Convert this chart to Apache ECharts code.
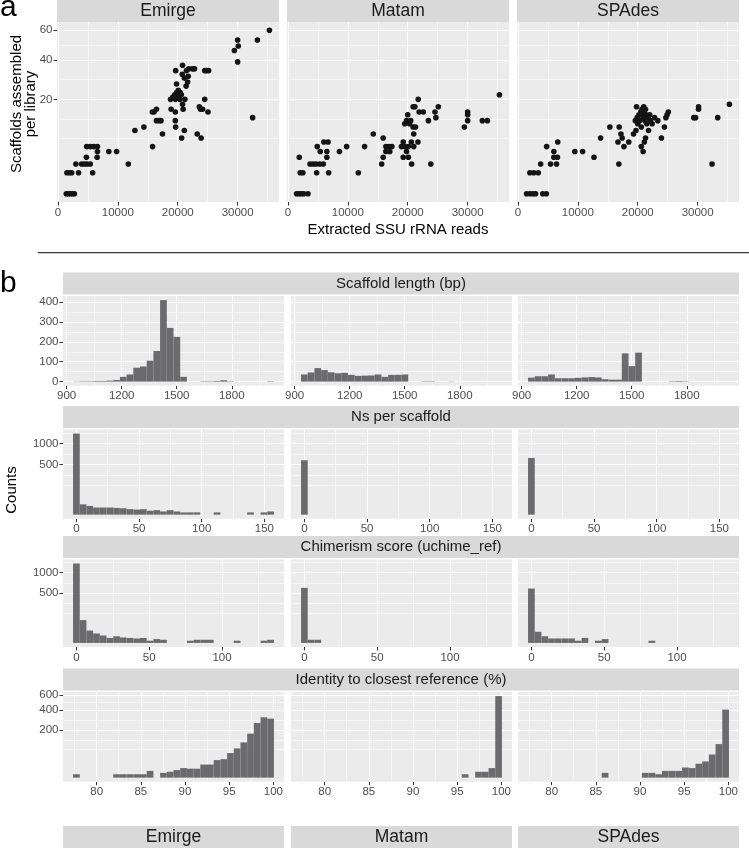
<!DOCTYPE html>
<html><head><meta charset="utf-8">
<script src="https://cdn.jsdelivr.net/npm/echarts@6/dist/echarts.min.js"></script>
<style>html,body{margin:0;padding:0;background:#fff}#c{width:749px;height:848px}</style>
</head><body><div id="c"></div>
<script>
// ---------------- DATA ----------------
const methods = ['Emirge', 'Matam', 'SPAdes'];

// Panel a: [extracted SSU rRNA reads, scaffolds assembled]
const scatterEmirge = [
[1400,0],[1750,0],[2100,0],[2450,0],[2750,0],
[1500,1],[1900,1],[2300,1],[3450,1],[5800,1],
[3000,2],[3950,2],[4400,2],[4850,2],[5400,2],[11750,2],
[4750,3],[6550,3],
[6600,4],[8500,4],[9800,4],
[4800,5],[5400,5],[6000,5],[6600,5],[15800,5],
[20650,7],[23900,7],[17450,8],[23250,8],[12850,9],[21100,9],[14350,10],[19650,10],
[16450,12],[16900,12],[17200,12],[19600,12],[32500,13],
[15750,15],[16050,15],[19600,15],[25050,15],
[16450,16],[18900,16],[20900,16],[23800,16],[24150,16],
[23600,17],[20800,18],
[18800,20],[19600,20],[20350,20],[21200,20],[24500,20],
[19200,21],[20200,21],[19500,22],[19900,22],[20600,22],[20400,23],[19800,23],[20100,24],
[21400,26],[19800,27],[21650,28],[21100,30],[21750,31],[20750,32],
[19650,34],[21450,34],[24500,34],[24800,34],[25150,34],[21850,35],[22450,35],[22800,35],[20800,37],
[30000,39],[29450,46],[30100,49],[30000,53],[33300,53],[35300,60]
];
const scatterMatam = [
[1450,0],[1850,0],[2250,0],[2650,0],[3350,0],
[2050,1],[2500,1],[4800,1],[6800,1],[11750,1],
[3700,2],[4200,2],[4700,2],[5300,2],[5900,2],
[1900,3],[6500,3],
[5400,4],[6500,4],[8600,4],
[4900,5],[9800,5],[12800,5],
[6000,6],[6700,6],
[14250,8],
[15650,2],[15900,3],[16350,4],[16800,5],[17350,5],[15900,7],[16350,5],[17000,4],
[18950,5],[19250,6],[19500,5],[19800,4],[20100,5],[19250,3],[20100,3],[20650,2],[23850,2],
[19500,11],[19800,12],[20000,14],[20300,11],[20500,12],[20900,10],[21300,10],[21000,8],[21700,6],[20600,6],[21000,5],
[20900,17],[21200,17],[21750,20],[21900,15],[22600,15],[23450,12],[24550,15],[25100,17],[24700,13],
[29450,10],[30000,15],[30000,14],[30000,12],[32450,12],[33300,12],[35300,22]
];
const scatterSpades = [
[1450,0],[2000,0],[2500,0],[2950,0],[4150,0],[4750,0],
[2000,1],[2650,1],[3400,1],
[3800,2],[5450,2],[6450,2],[16850,2],[32400,2],
[6000,3],[6600,3],[12700,3],
[6000,4],[9500,4],[10800,4],
[4800,5],[17700,5],
[6650,6],[16700,6],[18500,6],
[13800,7],[17400,7],[23950,7],
[15350,10],[16900,10],[17200,8],[24450,10],
[19300,8],[19700,9],[20000,11],[20300,12],[20600,10],[20900,13],[21200,12],[21500,11],[21800,9],[22100,12],[22400,11],
[19600,12],[19900,13],[20200,14],[20500,15],[20800,14],[21100,15],[21400,14],[21700,13],[20700,16],[21000,17],[21300,16],
[22000,14],[22800,13],[19800,17],[20600,5],[21100,6],[21300,7],[20900,4],
[23350,12],[24700,13],[24900,14],[25100,15],[29350,13],[29650,13],[30150,16],[30150,17],[33350,13],[35300,18]
];
const scatterXRange = [-150, 36900];
const scatterXBreaks = [0, 10000, 20000, 30000];
const scatterYBreaks = [20, 40, 60];

// Panel b: histograms (30 bins each row)
const rowTitles = ['Scaffold length (bp)', 'Ns per scaffold', 'Chimerism score (uchime_ref)', 'Identity to closest reference (%)'];

const lengthBinStart = 935, lengthBinWidth = 36.5;
const lengthEmirge = [1,2,2,3,3,5,8,24,36,70,76,105,154,410,270,225,24,0,0,2,2,3,7,2,0,0,0,0,0,2];
const lengthMatam  = [36,46,68,58,47,42,44,34,29,30,31,36,24,34,34,36,0,0,2,2,0,0,1,0,0,0,0,0,0,0];
const lengthSpades = [20,27,27,36,17,17,17,19,21,23,21,12,10,10,142,78,146,0,0,0,0,2,3,2,0,0,0,0,0,0];
const lengthXBreaks = [900, 1200, 1500, 1800];
const lengthYBreaks = [0, 100, 200, 300, 400];

const nsBinStart = -2.6725, nsBinWidth = 5.345;
const nsEmirge = [1300,21,15,10,10,10,9,8,6,5,6,3,4,2,4,2,1,1,1,0,0,1,0,0,0,0,1,0,1,2];
const nsMatam  = [585,0,0,0,0,0,0,0,0,0,0,0,0,0,0,0,0,0,0,0,0,0,0,0,0,0,0,0,0,0];
const nsSpades = [635,0,0,0,0,0,0,0,0,0,0,0,0,0,0,0,0,0,0,0,0,0,0,0,0,0,0,0,0,0];
const nsXBreaks = [0, 50, 100, 150];
const nsYBreaks = [500, 1000];

const chimBinStart = -2.3, chimBinWidth = 4.6;
const chimEmirge = [1270,105,31,18,11,5,9,6,5,4,5,1,3,2,0,0,0,1,2,2,2,0,0,0,1,0,0,0,1,2];
const chimMatam  = [610,2,2,0,0,0,0,0,0,0,0,0,0,0,0,0,0,0,0,0,0,0,0,0,0,0,0,0,0,0];
const chimSpades = [596,25,9,4,4,4,4,1,5,0,1,3,0,0,0,0,0,0,1,0,0,0,0,0,0,0,0,0,0,0];
const chimXBreaks = [0, 50, 100];
const chimYBreaks = [500, 1000];

const idBinStart = 77.33, idBinWidth = 0.758;
const idEmirge = [1,0,0,0,0,0,1,1,1,1,1,4,0,2,3,5,8,7,7,15,15,27,30,53,75,109,170,262,320,306];
const idMatam  = [0,0,0,0,0,0,0,0,0,0,0,0,0,0,0,0,0,0,0,0,0,0,0,0,1,0,3,3,8,585];
const idSpades = [0,0,0,0,0,0,0,0,0,0,0,2,0,0,0,0,0,2,2,1,4,4,4,9,8,17,23,47,99,407];
const idXBreaks = [80, 85, 90, 95, 100];
const idYBreaks = [200, 400, 600];

// ---------------- STYLE / LAYOUT ----------------
const FONT = '"Liberation Sans", Arial, Helvetica, sans-serif';
const PANEL_BG = '#EBEBEB', STRIP_BG = '#D9D9D9', TICK_TXT = '#4D4D4D', STRIP_TXT = '#1A1A1A';
const BAR_FILL = '#6b6b6e', POINT_FILL = '#141414';
const GRID_MAJOR = 1.1, GRID_MINOR = 0.55;
const aLefts = [57, 287, 517], aWidth = 222, aTop = 22, aHeight = 180;
const bLefts = [63, 291, 518], bWidth = 221;
const bRows = [{top: 296, h: 89.7}, {top: 429.5, h: 89.2}, {top: 559.5, h: 87.4}, {top: 692, h: 89.7}];

const grids = [], xAxes = [], yAxes = [], series = [], graphics = [];

function minorBreaksT(majT, lo, hi) {
  const b = majT.slice();
  const bd = b[1] - b[0];
  if (lo < b[0]) b.unshift(b[0] - bd);
  if (hi > b[b.length - 1]) b.push(b[b.length - 1] + bd);
  const out = [];
  for (let i = 0; i < b.length - 1; i++) { out.push(b[i]); out.push((b[i] + b[i + 1]) / 2); }
  out.push(b[b.length - 1]);
  return out.filter(v => v > lo && v < hi && !majT.some(m => Math.abs(m - v) < 1e-9));
}

function addPanel(g) {
  const i = grids.length;
  grids.push({left: g.left, top: g.top, width: g.width, height: g.height, show: true,
    backgroundColor: PANEL_BG, borderWidth: 0, containLabel: false, outerBoundsMode: 'none'});
  xAxes.push({type: 'value', gridIndex: i, min: g.xMin, max: g.xMax, position: 'bottom',
    axisLine: {show: false, onZero: false}, splitLine: {show: false},
    axisTick: {show: true, length: 3.5, customValues: g.xMaj, lineStyle: {color: '#333', width: 1}},
    axisLabel: {show: true, customValues: g.xMaj, color: TICK_TXT, fontSize: 11.5, fontFamily: FONT,
      margin: 4.5, hideOverlap: false, formatter: v => String(v)}});
  const yMajT = g.yMaj.map(g.yT);
  yAxes.push({type: 'value', gridIndex: i, min: g.yMin, max: g.yMax, position: 'left',
    axisLine: {show: false, onZero: false}, splitLine: {show: false},
    axisTick: {show: g.showY, length: 3.5, customValues: yMajT, lineStyle: {color: '#333', width: 1}},
    axisLabel: {show: g.showY, customValues: yMajT, color: TICK_TXT, fontSize: 11.5, fontFamily: FONT,
      margin: 4.5, hideOverlap: false, formatter: v => String(Math.round(g.yInv(v)))}});
  const lines = [];
  minorBreaksT(g.xMaj, g.xMin, g.xMax).forEach(v => lines.push({xAxis: v, lineStyle: {width: GRID_MINOR}}));
  minorBreaksT(yMajT, g.yMin, g.yMax).forEach(v => lines.push({yAxis: v, lineStyle: {width: GRID_MINOR}}));
  g.xMaj.forEach(v => lines.push({xAxis: v, lineStyle: {width: GRID_MAJOR}}));
  yMajT.forEach(v => lines.push({yAxis: v, lineStyle: {width: GRID_MAJOR}}));
  series.push({type: 'line', xAxisIndex: i, yAxisIndex: i, data: [], silent: true, z: 1,
    animation: false,
    markLine: {silent: true, z: 1, symbol: ['none', 'none'], animation: false, label: {show: false},
      emphasis: {disabled: true}, lineStyle: {color: '#FFFFFF', type: 'solid'}, data: lines}});
  return i;
}

const sqrtT = v => Math.sqrt(v), sqrtInv = v => v * v;
const idT = v => v, idInv = v => v;

// Panel a
[scatterEmirge, scatterMatam, scatterSpades].forEach((pts, c) => {
  const maxN = Math.max(...[scatterEmirge, scatterMatam, scatterSpades].flat().map(p => p[1]));
  const S = Math.sqrt(maxN);
  const i = addPanel({left: aLefts[c], top: aTop, width: aWidth, height: aHeight,
    xMin: scatterXRange[0], xMax: scatterXRange[1], xMaj: scatterXBreaks,
    yMin: -0.05 * S, yMax: 1.05 * S, yMaj: scatterYBreaks, yT: sqrtT, yInv: sqrtInv, showY: c === 0});
  series.push({type: 'scatter', xAxisIndex: i, yAxisIndex: i, z: 3, silent: true, animation: false,
    symbolSize: 5.6, itemStyle: {color: POINT_FILL, opacity: 1},
    data: pts.map(p => [p[0], Math.sqrt(p[1])])});
});

// Panel b
const rows = [
  {start: lengthBinStart, w: lengthBinWidth, data: [lengthEmirge, lengthMatam, lengthSpades], xMaj: lengthXBreaks, yMaj: lengthYBreaks, sqrt: false},
  {start: nsBinStart, w: nsBinWidth, data: [nsEmirge, nsMatam, nsSpades], xMaj: nsXBreaks, yMaj: nsYBreaks, sqrt: true},
  {start: chimBinStart, w: chimBinWidth, data: [chimEmirge, chimMatam, chimSpades], xMaj: chimXBreaks, yMaj: chimYBreaks, sqrt: true},
  {start: idBinStart, w: idBinWidth, data: [idEmirge, idMatam, idSpades], xMaj: idXBreaks, yMaj: idYBreaks, sqrt: true}
];
rows.forEach((r, ri) => {
  const nb = r.data[0].length;
  const xMin = r.start - 1.5 * r.w, xMax = r.start + (nb + 1.5) * r.w;
  const maxC = Math.max(...r.data.flat());
  const T = r.sqrt ? sqrtT : idT, Inv = r.sqrt ? sqrtInv : idInv;
  const M = T(maxC);
  r.data.forEach((counts, c) => {
    const i = addPanel({left: bLefts[c], top: bRows[ri].top, width: bWidth, height: bRows[ri].h,
      xMin, xMax, xMaj: r.xMaj, yMin: -0.05 * M, yMax: 1.05 * M, yMaj: r.yMaj, yT: T, yInv: Inv, showY: c === 0});
    const bars = [];
    counts.forEach((n, k) => { if (n > 0) bars.push([r.start + k * r.w, r.start + (k + 1) * r.w, T(n)]); });
    series.push({type: 'custom', xAxisIndex: i, yAxisIndex: i, z: 3, silent: true, animation: false,
      encode: {x: [0, 1], y: 2}, data: bars,
      renderItem: (params, api) => {
        const p0 = api.coord([api.value(0), 0]);
        const p1 = api.coord([api.value(1), api.value(2)]);
        return {type: 'rect', shape: {x: p0[0], y: p1[1], width: p1[0] - p0[0], height: p0[1] - p1[1]},
          style: {fill: BAR_FILL}};
      }});
  });
});

// ---------------- TEXT / STRIPS ----------------
function txt(x, y, s, size, opts = {}) {
  graphics.push(Object.assign({type: 'text', x, y, silent: true, rotation: opts.rot || 0,
    style: {text: s, x: 0, y: 0, fill: opts.fill || '#000', font: `${size}px ${FONT}`,
      align: opts.align || 'center', verticalAlign: 'middle', lineHeight: opts.lh || size}}));
}
function strip(x, y, w, h, s, size) {
  graphics.push({type: 'rect', silent: true, shape: {x, y, width: w, height: h}, style: {fill: STRIP_BG}});
  txt(x + w / 2, y + h / 2, s, size, {fill: STRIP_TXT});
}
txt(0, 8, 'a', 30, {align: 'left'});
methods.forEach((m, c) => strip(aLefts[c], 0, aWidth, 22, m, 17.5));
txt(398, 230, 'Extracted SSU rRNA reads', 15);
txt(23.5, 104, 'Scaffolds assembled\nper library', 15, {rot: Math.PI / 2, lh: 14});
graphics.push({type: 'line', silent: true, shape: {x1: 37.7, y1: 252.7, x2: 749, y2: 252.7},
  style: {stroke: '#3a3a3a', lineWidth: 1.2}});
txt(0, 284, 'b', 30, {align: 'left'});
rowTitles.forEach((t, ri) => strip(bLefts[0], bRows[ri].top - 23.5, bLefts[2] + bWidth - bLefts[0], 22, t, 15));
txt(12, 490, 'Counts', 15, {rot: Math.PI / 2});
methods.forEach((m, c) => strip(bLefts[c], 826, bWidth, 22, m, 17.5));

const chart = echarts.init(document.getElementById('c'), null, {renderer: 'canvas'});
chart.setOption({animation: false, grid: grids, xAxis: xAxes, yAxis: yAxes, series, graphic: {elements: graphics}});
</script>
</body></html>
